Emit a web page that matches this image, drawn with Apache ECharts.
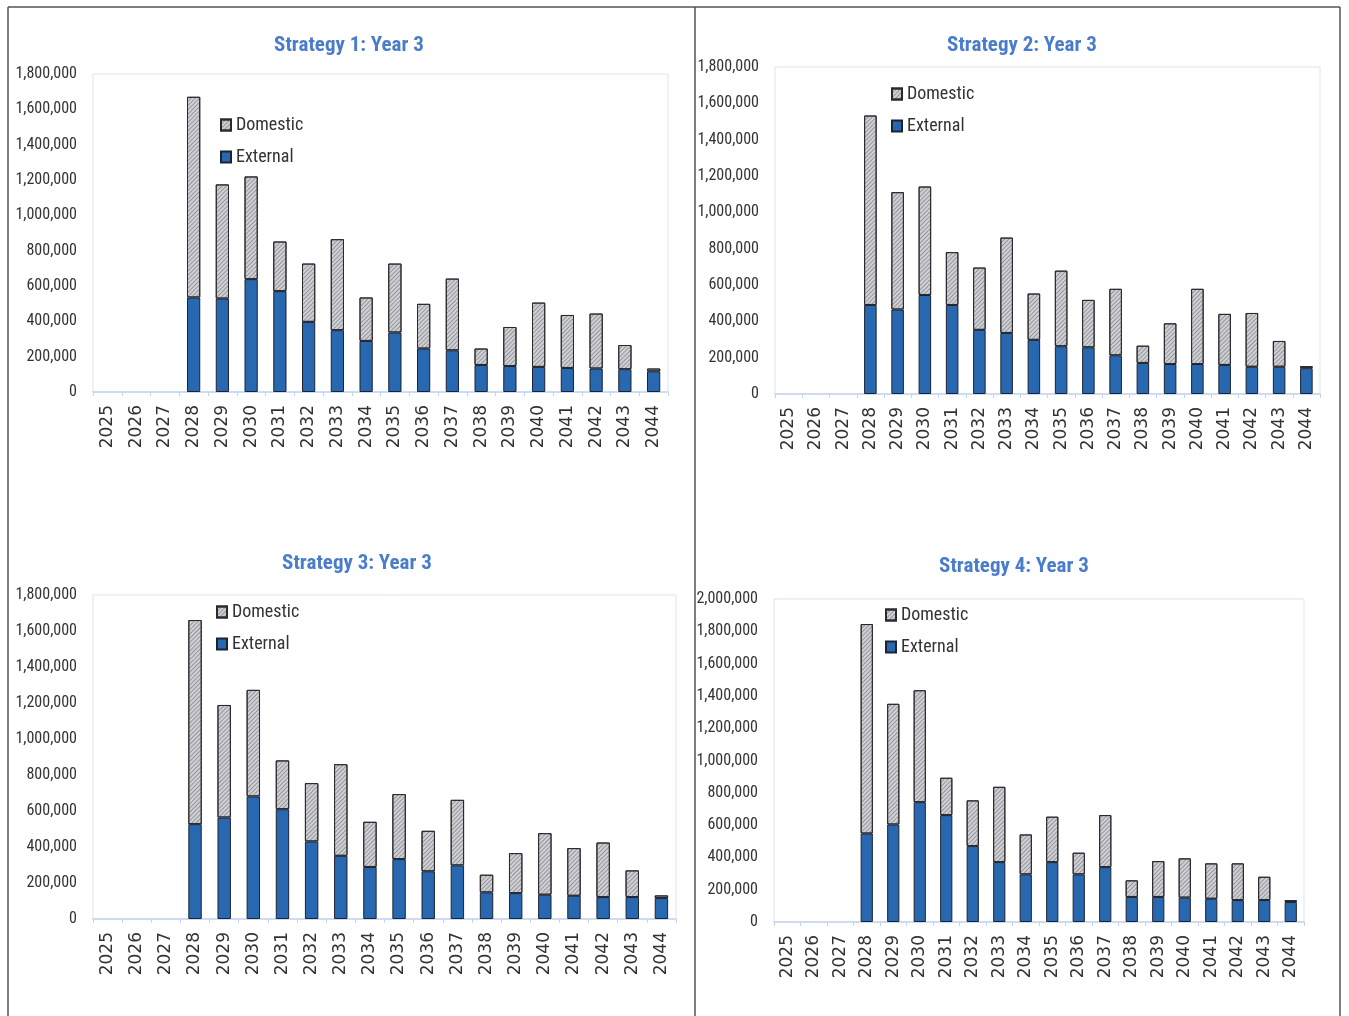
<!DOCTYPE html>
<html>
<head>
<meta charset="utf-8">
<script src="https://cdn.jsdelivr.net/npm/echarts@6/dist/echarts.min.js"></script>
<style>
html,body{margin:0;padding:0;background:#fff;}
#c{width:1349px;height:1016px;}
</style>
</head>
<body>
<div id="c"></div>
<script>
const years = ['2025','2026','2027','2028','2029','2030','2031','2032','2033','2034','2035','2036','2037','2038','2039','2040','2041','2042','2043','2044'];
const titles = ['Strategy 1: Year 3','Strategy 2: Year 3','Strategy 3: Year 3','Strategy 4: Year 3'];
const seriesNames = ['Domestic','External'];

const s1External = [null,null,null,535000,529000,639000,571000,397000,350000,289000,337000,246000,236000,153000,147000,142000,136000,133000,129000,117000];
const s1Domestic = [null,null,null,1136000,646000,581000,281000,330000,515000,246000,390000,253000,406000,93000,221000,364000,300000,311000,137000,16000];

const s2External = [null,null,null,490000,465000,545000,490000,353000,336000,298000,263000,257000,213000,171000,165000,165000,160000,150000,150000,142000];
const s2Domestic = [null,null,null,1043000,646000,597000,291000,343000,525000,255000,416000,261000,366000,95000,224000,414000,281000,296000,142000,12000];

const s3External = [null,null,null,527000,564000,681000,610000,431000,351000,289000,333000,265000,298000,148000,144000,135000,129000,122000,122000,117000];
const s3Domestic = [null,null,null,1134000,625000,592000,271000,324000,509000,251000,361000,225000,364000,98000,222000,342000,265000,303000,148000,14000];

const s4External = [null,null,null,548000,604000,742000,662000,470000,371000,295000,371000,295000,340000,155000,155000,151000,144000,136000,136000,124000];
const s4Domestic = [null,null,null,1297000,747000,693000,231000,283000,466000,247000,281000,134000,322000,103000,222000,243000,219000,227000,144000,12000];

const yMax = [1800000,1800000,1800000,2000000];
const yInterval = 200000;

const externalData = [s1External,s2External,s3External,s4External];
const domesticData = [s1Domestic,s2Domestic,s3Domestic,s4Domestic];

// layout (pixels)
const grids = [
  {left:93, top:74, width:575, height:318},
  {left:775, top:67, width:545, height:327},
  {left:93, top:595, width:583, height:324},
  {left:774, top:599, width:530, height:323}
];
const titlePos = [[344,30],[1017,30],[352,548],[1009,551]];
const legendPos = [[220,116],[891,85],[216,603],[885,606]];

const FONT = "'Liberation Sans Narrow','Roboto Condensed','DejaVu Sans Condensed',sans-serif";
const EXT_COLOR = '#2868b0';
const DOM_COLOR = '#d0d1d5';

const option = {
  animation:false,
  backgroundColor:'#ffffff',
  title: titles.map((t,i)=>({
    text:t, left:titlePos[i][0], top:titlePos[i][1], textAlign:'center',
    textStyle:{fontFamily:FONT, fontSize:21, fontWeight:'bold', color:'#4a7ccc'}
  })),
  legend: legendPos.map((p,i)=>({
    data:seriesNames, orient:'vertical', left:p[0], top:p[1], itemGap:14,
    itemWidth:10, itemHeight:11, icon:'rect', selectedMode:false,
    textStyle:{fontFamily:FONT, fontSize:18, color:'#333'}, padding:0, itemStyle:{}
  })),
  grid: grids.map(g=>({left:g.left, top:g.top, width:g.width, height:g.height, show:true, borderColor:'#dbe4f3', borderWidth:1, containLabel:false})),
  xAxis: grids.map((g,i)=>({
    type:'category', gridIndex:i, data:years,
    axisLine:{lineStyle:{color:'#c5d4ee', width:1.5}},
    axisTick:{show:true, length:4, lineStyle:{color:'#c5d4ee'}},
    axisLabel:{rotate:90, margin:13, fontFamily:"'DejaVu Sans',sans-serif", fontSize:17, color:'#333', interval:0}
  })),
  yAxis: grids.map((g,i)=>({
    type:'value', gridIndex:i, min:0, max:yMax[i], interval:yInterval,
    axisLine:{show:false}, axisTick:{show:false}, splitLine:{show:false},
    axisLabel:{margin:16, fontFamily:FONT, fontSize:16, color:'#333',
      formatter:v=>v.toLocaleString('en-US')}
  })),
  series: []
};

for (let i=0;i<4;i++){
  option.series.push({
    name:'External', type:'bar', stack:'s'+i, xAxisIndex:i, yAxisIndex:i,
    data:externalData[i], barWidth:'46%',
    itemStyle:{color:EXT_COLOR, borderColor:'#1c2330', borderWidth:1}
  });
  option.series.push({
    name:'Domestic', type:'bar', stack:'s'+i, xAxisIndex:i, yAxisIndex:i,
    data:domesticData[i], barWidth:'46%',
    itemStyle:{color:DOM_COLOR, borderColor:'#2a2a2e', borderWidth:1,
      decal:{symbol:'rect', symbolSize:1, color:'rgba(100,100,110,0.55)', dashArrayX:[1,0], dashArrayY:[1,1.6], rotation:-Math.PI/4}}
  });
}

option.graphic = [
  {type:'line', shape:{x1:8,y1:7,x2:1340,y2:7}, style:{stroke:'#555', lineWidth:1.5}},
  {type:'line', shape:{x1:8,y1:7,x2:8,y2:1016}, style:{stroke:'#555', lineWidth:1.5}},
  {type:'line', shape:{x1:1340,y1:7,x2:1340,y2:1016}, style:{stroke:'#555', lineWidth:1.5}},
  {type:'line', shape:{x1:695,y1:7,x2:695,y2:1016}, style:{stroke:'#555', lineWidth:1.5}}
];

const chart = echarts.init(document.getElementById('c'), null, {renderer:'canvas'});
chart.setOption(option);
</script>
</body>
</html>
